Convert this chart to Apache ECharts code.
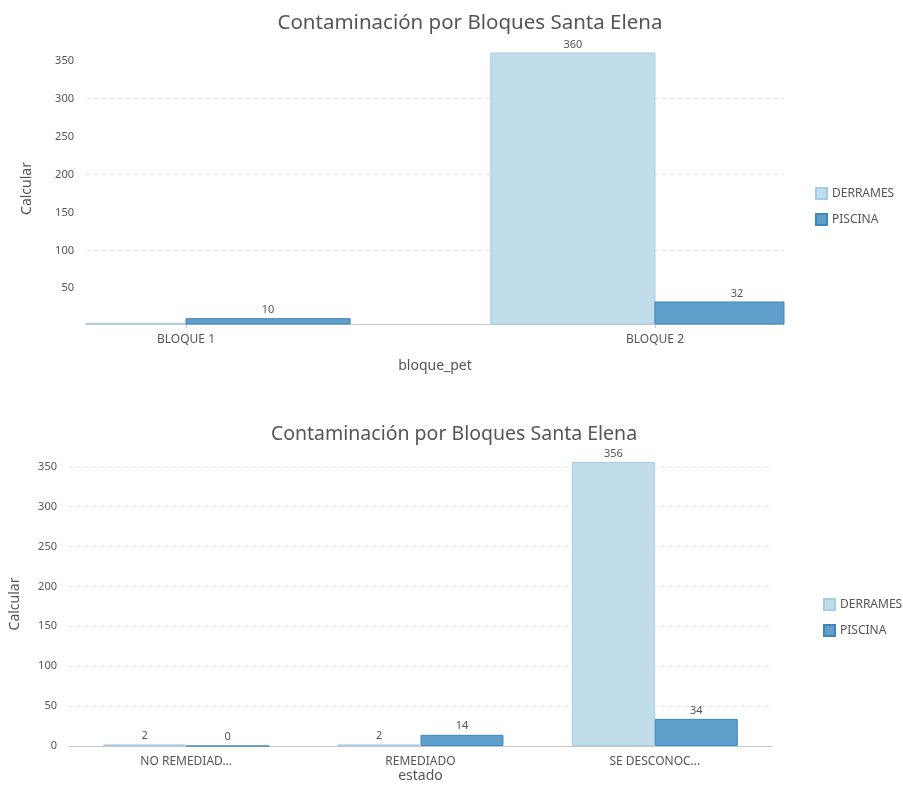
<!DOCTYPE html>
<html>
<head>
<meta charset="utf-8">
<script src="https://cdn.jsdelivr.net/npm/echarts@6/dist/echarts.min.js"></script>
<style>
  html, body { margin: 0; padding: 0; background: #fff; }
  #main { width: 903px; height: 786px; }
</style>
</head>
<body>
<div id="main"></div>
<script>
var dom = document.getElementById('main');
var myChart = echarts.init(dom);

var titleText = 'Contaminación por Bloques Santa Elena';
var seriesNames = ['DERRAMES', 'PISCINA'];

// grafico de arriba: bloque_pet
var topCats = ['BLOQUE 1', 'BLOQUE 2'];
var topDerrames = [4, 360];
var topPiscina = [10, 32];
var topMin = 3; // el eje empieza casi en el valor mas bajo
var topNoLabelBelow = 5; // la barra casi vacia no lleva etiqueta

// grafico de abajo: estado
var bottomCats = ['NO REMEDIAD...', 'REMEDIADO', 'SE DESCONOC...'];
var bottomDerrames = [2, 2, 356];
var bottomPiscina = [0, 14, 34];

var yTicks = [50, 100, 150, 200, 250, 300, 350];

var font = 'Noto Sans';
var colorDerrames = '#c1dcea';
var borderDerrames = '#a6cde3';
var colorPiscina = '#609fca';
var borderPiscina = '#3f86bf';

function pairs(arr) {
    return arr.map(function (v, i) { return [i, v]; });
}

// barras del grafico de arriba: van recortadas al borde del grid como en el original
// side = -1 la barra queda a la izquierda de la categoria, 1 a la derecha
function clippedBar(side, fill, stroke) {
    return function (params, api) {
        var cat = api.value(0);
        var val = api.value(1);
        var base = api.coord([cat, topMin]);
        var top = api.coord([cat, val]);
        var w = api.size([1, 0])[0] * 0.35;
        var x = side < 0 ? base[0] - w : base[0];
        var cs = params.coordSys;
        var rect = echarts.graphic.clipRectByRect(
            { x: x, y: top[1], width: w, height: base[1] - top[1] },
            { x: cs.x, y: cs.y - 20, width: cs.width, height: cs.height + 20 }
        );
        var children = [];
        if (rect) {
            children.push({
                type: 'rect',
                shape: rect,
                style: { fill: fill, stroke: stroke, lineWidth: 1 }
            });
        }
        if (val >= topNoLabelBelow) {
            children.push({
                type: 'text',
                x: x + w / 2,
                y: top[1] - 3,
                style: {
                    text: String(val),
                    fill: '#555',
                    fontSize: 11,
                    fontFamily: font,
                    align: 'center',
                    verticalAlign: 'bottom'
                }
            });
        }
        return { type: 'group', children: children };
    };
}

var labelStyle = {
    show: true,
    position: 'top',
    distance: 3,
    color: '#555',
    fontSize: 11,
    fontFamily: font
};

var splitLine = {
    show: true,
    showMaxLine: false,
    showMinLine: false,
    lineStyle: { color: '#e3e3e3', type: [4, 4] }
};

option = {
    animation: false,
    textStyle: { fontFamily: font },
    title: [
        {
            text: titleText,
            left: 465, top: 8,
            textAlign: 'center',
            textStyle: { fontSize: 20.5, fontWeight: 'normal', color: '#555', fontFamily: font }
        },
        {
            text: titleText,
            left: 449, top: 419,
            textAlign: 'center',
            textStyle: { fontSize: 19.5, fontWeight: 'normal', color: '#555', fontFamily: font }
        }
    ],
    legend: [
        {
            data: seriesNames,
            orient: 'vertical',
            left: 810, top: 182,
            itemWidth: 11, itemHeight: 11, itemGap: 13,
            icon: 'rect',
            textStyle: { fontSize: 12, color: '#555', fontFamily: font }
        },
        {
            data: seriesNames,
            orient: 'vertical',
            left: 818, top: 593,
            itemWidth: 11, itemHeight: 11, itemGap: 13,
            icon: 'rect',
            textStyle: { fontSize: 12, color: '#555', fontFamily: font }
        }
    ],
    grid: [
        { left: 86, width: 698, top: 53, height: 271 },
        { left: 69, width: 703, top: 462, height: 284 }
    ],
    xAxis: [
        {
            // eje de valores: la vista corta la primera y la ultima barra
            type: 'value',
            gridIndex: 0,
            min: -0.2132,
            max: 1.2751,
            name: 'bloque_pet',
            nameLocation: 'middle',
            nameGap: 35,
            nameTextStyle: { fontSize: 14, color: '#555', fontFamily: font },
            axisLine: { show: true, lineStyle: { color: '#c8c8c8' } },
            axisTick: { show: true, customValues: [0, 1], length: 4, lineStyle: { color: '#c8c8c8' } },
            axisLabel: {
                customValues: [0, 1],
                margin: 10,
                fontSize: 12,
                color: '#555',
                fontFamily: font,
                formatter: function (v) { return topCats[Math.round(v)]; }
            },
            splitLine: { show: false }
        },
        {
            type: 'category',
            gridIndex: 1,
            data: bottomCats,
            name: 'estado',
            nameLocation: 'middle',
            nameGap: 23,
            nameTextStyle: { fontSize: 14, color: '#555', fontFamily: font },
            axisLine: { lineStyle: { color: '#c8c8c8' } },
            axisTick: { alignWithLabel: true, length: 4, lineStyle: { color: '#c8c8c8' } },
            axisLabel: { margin: 10, fontSize: 12, color: '#555', fontFamily: font }
        }
    ],
    yAxis: [
        {
            type: 'value',
            gridIndex: 0,
            min: topMin,
            max: 360,
            name: 'Calcular',
            nameLocation: 'middle',
            nameGap: 52,
            nameTextStyle: { fontSize: 14, color: '#555', fontFamily: font },
            axisLine: { show: false },
            axisTick: { show: false },
            axisLabel: {
                customValues: yTicks,
                margin: 12, fontSize: 11, color: '#555', fontFamily: font
            },
            splitLine: splitLine
        },
        {
            type: 'value',
            gridIndex: 1,
            min: 0,
            max: 'dataMax',
            interval: 50,
            name: 'Calcular',
            nameLocation: 'middle',
            nameGap: 47,
            nameTextStyle: { fontSize: 14, color: '#555', fontFamily: font },
            axisLine: { show: false },
            axisTick: { show: false },
            axisLabel: { showMaxLabel: false, margin: 12, fontSize: 11, color: '#555', fontFamily: font },
            splitLine: splitLine
        }
    ],
    series: [
        {
            name: seriesNames[0], type: 'custom',
            xAxisIndex: 0, yAxisIndex: 0,
            encode: { x: 0, y: 1 },
            data: pairs(topDerrames),
            itemStyle: { color: colorDerrames, borderColor: borderDerrames, borderWidth: 1 },
            renderItem: clippedBar(-1, colorDerrames, borderDerrames)
        },
        {
            name: seriesNames[1], type: 'custom',
            xAxisIndex: 0, yAxisIndex: 0,
            encode: { x: 0, y: 1 },
            data: pairs(topPiscina),
            itemStyle: { color: colorPiscina, borderColor: borderPiscina, borderWidth: 1 },
            renderItem: clippedBar(1, colorPiscina, borderPiscina)
        },
        {
            name: seriesNames[0], type: 'bar',
            xAxisIndex: 1, yAxisIndex: 1,
            barWidth: '35.4%', barGap: '0%',
            data: bottomDerrames,
            itemStyle: { color: colorDerrames, borderColor: borderDerrames, borderWidth: 1 },
            label: labelStyle
        },
        {
            name: seriesNames[1], type: 'bar',
            xAxisIndex: 1, yAxisIndex: 1,
            barWidth: '35.4%', barGap: '0%',
            data: bottomPiscina,
            itemStyle: { color: colorPiscina, borderColor: borderPiscina, borderWidth: 1 },
            label: labelStyle
        }
    ]
};

if (option && typeof option === 'object') {
    myChart.setOption(option, true);
}
</script>
</body>
</html>
